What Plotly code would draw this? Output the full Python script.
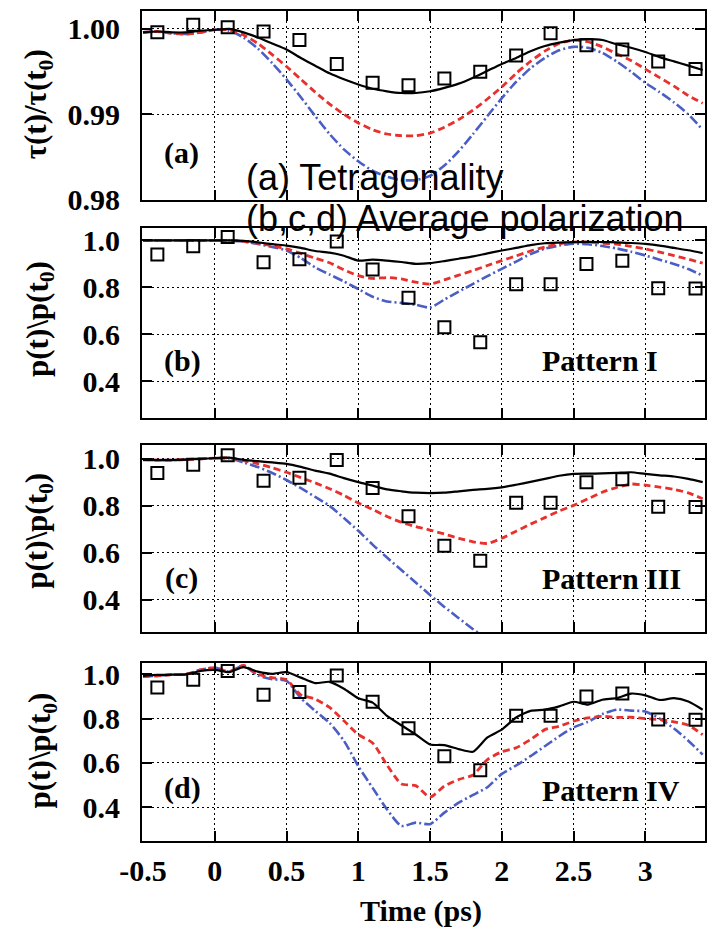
import plotly.graph_objects as go

# ---------------- data ----------------
t = [-0.5, -0.4, -0.3, -0.2, -0.1, 0.0, 0.1, 0.2, 0.3, 0.4, 0.5, 0.6, 0.7, 0.8, 0.9,
     1.0, 1.1, 1.2, 1.3, 1.4, 1.5, 1.6, 1.7, 1.8, 1.9, 2.0, 2.1, 2.2, 2.3, 2.4, 2.5,
     2.6, 2.7, 2.8, 2.9, 3.0, 3.1, 3.2, 3.3, 3.4]

# (a) tetragonality
tau_solid = [0.9996, 0.9997, 0.9996, 0.9996, 0.9998, 0.9999, 1.0000, 0.9996, 0.9990, 0.9983,
             0.9976, 0.9966, 0.9957, 0.9948, 0.9941, 0.9935, 0.9930, 0.9927, 0.9925, 0.9925,
             0.9927, 0.9931, 0.9936, 0.9943, 0.9951, 0.9959, 0.9966, 0.9974, 0.9980, 0.9984,
             0.9987, 0.9988, 0.9987, 0.9982, 0.9978, 0.9973, 0.9967, 0.9962, 0.9957, 0.9952]
tau_dashed = [0.9996, 0.9997, 0.9995, 0.9994, 0.9996, 0.9999, 0.9999, 0.9993, 0.9983, 0.9970,
              0.9956, 0.9941, 0.9926, 0.9912, 0.9900, 0.9890, 0.9882, 0.9877, 0.9875, 0.9875,
              0.9878, 0.9885, 0.9894, 0.9905, 0.9918, 0.9932, 0.9948, 0.9962, 0.9974, 0.9983,
              0.9987, 0.9985, 0.9979, 0.9971, 0.9963, 0.9953, 0.9943, 0.9933, 0.9922, 0.9913]
tau_dashdot = [0.9996, 0.9997, 0.9995, 0.9994, 0.9996, 0.9999, 0.9998, 0.9990, 0.9977, 0.9960,
               0.9941, 0.9920, 0.9898, 0.9877, 0.9859, 0.9845, 0.9834, 0.9827, 0.9823, 0.9823,
               0.9828, 0.9840, 0.9857, 0.9877, 0.9898, 0.9919, 0.9938, 0.9954, 0.9966, 0.9975,
               0.9979, 0.9978, 0.9972, 0.9962, 0.9950, 0.9937, 0.9926, 0.9914, 0.9900, 0.9882]

# (b) Pattern I
p1_solid = [1.0, 1.0, 1.0, 1.0, 1.0, 1.0, 1.0, 0.998, 0.992, 0.984, 0.978, 0.968, 0.955, 0.948,
            0.935, 0.914, 0.918, 0.914, 0.908, 0.900, 0.903, 0.912, 0.922, 0.932, 0.945, 0.957,
            0.968, 0.980, 0.988, 0.991, 0.993, 0.994, 0.993, 0.992, 0.989, 0.985, 0.978, 0.968,
            0.958, 0.946]
p1_dashed = [1.0, 1.0, 1.0, 1.0, 1.0, 1.0, 1.0, 0.996, 0.988, 0.977, 0.964, 0.945, 0.924, 0.905,
             0.875, 0.850, 0.838, 0.842, 0.836, 0.822, 0.814, 0.832, 0.852, 0.872, 0.893, 0.914,
             0.934, 0.955, 0.972, 0.985, 0.993, 0.993, 0.988, 0.984, 0.975, 0.964, 0.950, 0.935,
             0.920, 0.903]
p1_dashdot = [1.0, 1.0, 1.0, 1.0, 1.0, 1.0, 1.0, 0.995, 0.985, 0.972, 0.957, 0.925, 0.885, 0.855,
              0.825, 0.793, 0.760, 0.740, 0.734, 0.726, 0.714, 0.748, 0.782, 0.815, 0.848, 0.879,
              0.910, 0.942, 0.965, 0.978, 0.986, 0.984, 0.976, 0.966, 0.952, 0.936, 0.918, 0.900,
              0.878, 0.850]

# (c) Pattern III
p3_solid = [0.996, 0.995, 0.995, 0.997, 1.0, 1.003, 1.005, 0.996, 0.990, 0.985, 0.979, 0.966,
            0.950, 0.937, 0.918, 0.901, 0.886, 0.870, 0.862, 0.856, 0.854, 0.856, 0.862, 0.868,
            0.872, 0.879, 0.890, 0.902, 0.915, 0.928, 0.936, 0.937, 0.938, 0.940, 0.943, 0.936,
            0.930, 0.925, 0.915, 0.901]
p3_dashed = [0.996, 0.995, 0.995, 0.997, 1.0, 1.003, 1.004, 0.992, 0.980, 0.962, 0.943, 0.920,
             0.898, 0.873, 0.845, 0.812, 0.785, 0.755, 0.730, 0.712, 0.697, 0.680, 0.662, 0.647,
             0.640, 0.662, 0.692, 0.722, 0.750, 0.778, 0.802, 0.830, 0.858, 0.878, 0.893, 0.888,
             0.880, 0.870, 0.855, 0.830]
p3_dashdot = [0.996, 0.995, 0.995, 0.997, 1.0, 1.003, 1.002, 0.985, 0.965, 0.940, 0.910, 0.875,
              0.838, 0.800, 0.748, 0.694, 0.635, 0.580, 0.527, 0.474, 0.421, 0.370, 0.322, 0.275,
              0.230, None, None, None, None, None, None, None, None, None, None, None, None,
              None, None, None]

# (d) Pattern IV
p4_solid = [0.993, 0.997, 0.998, 1.0, 1.015, 1.020, 1.010, 1.032, 1.012, 1.002, 1.010, 0.985,
            0.960, 0.966, 0.935, 0.892, 0.872, 0.812, 0.770, 0.728, 0.683, 0.680, 0.662, 0.650,
            0.715, 0.750, 0.805, 0.835, 0.840, 0.855, 0.876, 0.863, 0.885, 0.892, 0.913, 0.905,
            0.884, 0.892, 0.877, 0.840]
p4_dashed = [0.990, 0.993, 0.998, 1.0, 1.020, 1.030, 1.012, 1.040, 1.000, 0.985, 0.975, 0.907,
             0.888, 0.850, 0.790, 0.728, 0.690, 0.590, 0.505, 0.497, 0.445, 0.495, 0.525, 0.545,
             0.615, 0.650, 0.668, 0.705, 0.750, 0.765, 0.788, 0.803, 0.810, 0.805, 0.806, 0.800,
             0.795, 0.785, 0.770, 0.727]
p4_dashdot = [0.990, 0.993, 0.998, 1.0, 1.020, 1.030, 1.012, 1.040, 0.995, 0.978, 0.970, 0.892,
              0.835, 0.780, 0.700, 0.585, 0.487, 0.390, 0.315, 0.330, 0.323, 0.375, 0.420, 0.455,
              0.490, 0.550, 0.588, 0.630, 0.675, 0.720, 0.760, 0.785, 0.820, 0.840, 0.836, 0.832,
              0.800, 0.755, 0.700, 0.637]

# experimental points (open squares)
t_exp = [-0.40, -0.15, 0.09, 0.34, 0.59, 0.85, 1.10, 1.35, 1.60, 1.85, 2.10, 2.34, 2.59, 2.84, 3.09, 3.35]
tau_exp = [0.9996, 1.0005, 1.0002, 0.9997, 0.9987, 0.9959, 0.9937, 0.9934, 0.9942, 0.9950,
           0.9969, 0.9995, 0.9981, 0.9976, 0.9962, 0.9953]
p_exp = [0.940, 0.975, 1.015, 0.907, 0.920, 0.995, 0.876, 0.756, 0.630, 0.566, 0.813, 0.813,
         0.900, 0.913, 0.796, 0.795]

x_ticks = [-0.5, 0, 0.5, 1, 1.5, 2, 2.5, 3]
x_ticktext = ["-0.5", "0", "0.5", "1", "1.5", "2", "2.5", "3"]
tau_ticks = [0.98, 0.99, 1.00]
tau_ticktext = ["0.98", "0.99", "1.00"]
p_ticks = [0.4, 0.6, 0.8, 1.0]
p_ticktext = ["0.4", "0.6", "0.8", "1.0"]

# ---------------- figure ----------------
W, H = 713, 930
L, R, T, B = 142, 6, 10, 89
PW = W - L - R
PH = H - T - B


def px(x):
    return (x - L) / PW


def py(y):
    return (H - B - y) / PH


BLACK = "black"
RED = "#e8302c"
BLUE = "#4a5ec4"
SERIF = "Liberation Serif"

panels = [
    ("", "y", tau_solid, tau_dashed, tau_dashdot, tau_exp),
    ("2", "y2", p1_solid, p1_dashed, p1_dashdot, p_exp),
    ("3", "y3", p3_solid, p3_dashed, p3_dashdot, p_exp),
    ("4", "y4", p4_solid, p4_dashed, p4_dashdot, p_exp),
]

fig = go.Figure()
for sfx, yname, s1, s2, s3, ex in panels:
    xa = "x" + sfx
    fig.add_trace(go.Scatter(x=t, y=s3, xaxis=xa, yaxis=yname, mode="lines",
                             line=dict(color=BLUE, width=2.6, dash="10px,3px,2px,3px", shape="spline", smoothing=0.6),
                             showlegend=False))
    fig.add_trace(go.Scatter(x=t, y=s2, xaxis=xa, yaxis=yname, mode="lines",
                             line=dict(color=RED, width=2.8, dash="7px,4px", shape="spline", smoothing=0.6),
                             showlegend=False))
    fig.add_trace(go.Scatter(x=t, y=s1, xaxis=xa, yaxis=yname, mode="lines",
                             line=dict(color=BLACK, width=2.2, shape="spline", smoothing=0.6),
                             showlegend=False))
    fig.add_trace(go.Scatter(x=t_exp, y=ex, xaxis=xa, yaxis=yname, mode="markers",
                             marker=dict(symbol="square-open", size=12, color=BLACK,
                                         line=dict(width=2, color=BLACK)),
                             showlegend=False, cliponaxis=False))

domains = [
    [py(199), py(10)],
    [py(417), py(227)],
    [py(632), py(445)],
    [py(841), py(663)],
]
yranges = [[0.98, 1.0021], [0.246, 1.054], [0.262, 1.057], [0.247, 1.05]]

tickfont = dict(family=SERIF, size=30, color="black", weight="bold")
axis_common = dict(showline=True, linecolor="black", linewidth=2, mirror="allticks",
                   ticks="inside", ticklen=10, tickwidth=2, tickcolor="black",
                   showgrid=True, gridcolor="black", gridwidth=1, griddash="2px,3px",
                   zeroline=False, tickfont=tickfont)

layout = dict(width=W, height=H, margin=dict(l=L, r=R, t=T, b=B),
              paper_bgcolor="white", plot_bgcolor="white", showlegend=False)

for i, (sfx, yname, *_rest) in enumerate(panels):
    xkey = "xaxis" + sfx
    ykey = "yaxis" + sfx
    layout[xkey] = dict(axis_common, domain=[0, 1], range=[-0.507, 3.416], anchor=yname,
                        tickvals=x_ticks, ticktext=x_ticktext,
                        showticklabels=(i == 3), ticklabelstandoff=2)
    if i == 0:
        yt, ytt = tau_ticks, tau_ticktext
    else:
        yt, ytt = p_ticks, p_ticktext
    layout[ykey] = dict(axis_common, domain=domains[i], range=yranges[i], anchor="x" + sfx,
                        tickvals=yt, ticktext=ytt, ticklabelstandoff=14)

fig.update_layout(**layout)

ann = []
label_font = dict(family=SERIF, size=30, color="black", weight="bold")
# panel letters
for txt, (cx, cy) in zip(["(a)", "(b)", "(c)", "(d)"], [(182, 152), (183, 360), (182, 578), (183, 788)]):
    ann.append(dict(text=txt, x=px(cx), y=py(cy), xref="paper", yref="paper",
                    xanchor="center", yanchor="middle", showarrow=False, font=label_font))
# pattern labels
for txt, cy in [("Pattern I", 360), ("Pattern III", 578), ("Pattern IV", 790)]:
    ann.append(dict(text=txt, x=px(541), y=py(cy), xref="paper", yref="paper",
                    xanchor="left", yanchor="middle", showarrow=False, font=label_font))
# y-axis titles
ytitle_font = dict(family=SERIF, size=31, color="black", weight="bold")
for txt, (cx, cy) in zip(["τ(t)/τ(t<sub>0</sub>)", "p(t)\\p(t<sub>0</sub>)",
                          "p(t)\\p(t<sub>0</sub>)", "p(t)\\p(t<sub>0</sub>)"],
                         [(38, 103), (39, 318), (39, 530), (42, 750)]):
    ann.append(dict(text=txt, x=px(cx), y=py(cy), xref="paper", yref="paper", textangle=-90,
                    xanchor="center", yanchor="middle", showarrow=False, font=ytitle_font))
# x-axis title
ann.append(dict(text="Time (ps)", x=px(422), y=py(911), xref="paper", yref="paper",
                xanchor="center", yanchor="middle", showarrow=False, font=label_font))
# overlay sans text
sans = dict(family="Liberation Sans", size=36, color="black")
ann.append(dict(text="(a) Tetragonality", x=px(244), y=py(177), xref="paper", yref="paper",
                xanchor="left", yanchor="middle", showarrow=False, font=sans))
ann.append(dict(text="(b,c,d) Average polarization", x=px(244), y=py(218), xref="paper", yref="paper",
                xanchor="left", yanchor="middle", showarrow=False, font=sans))

fig.update_layout(annotations=ann)
fig.write_html("out.html")
